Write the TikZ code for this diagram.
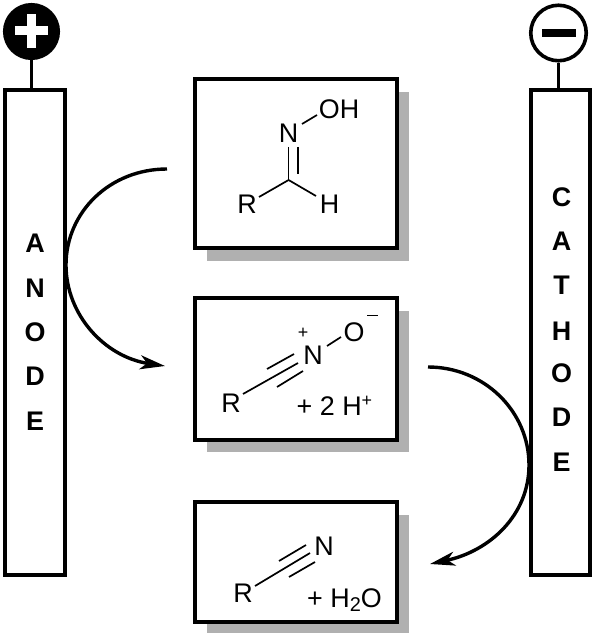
\documentclass[tikz,border=0pt]{standalone}
\usepackage{fontspec}
\setmainfont{Liberation Sans}
\usetikzlibrary{arrows.meta}
\tikzset{
  panel/.style={draw=black,line width=3.6bp,fill=white,inner sep=0pt},
  shadowbox/.style={fill=black!31,draw=none},
  electrode/.style={draw=black,line width=3.6bp,fill=white},
  chem/.style={inner sep=0pt,font=\fontsize{27}{27}\selectfont},
  elabel/.style={inner sep=0pt,font=\fontsize{27}{27}\selectfont\bfseries},
  bond/.style={line width=1.7bp},
  stem/.style={line width=3.6bp},
  flow/.style={line width=3.4bp,-{Stealth[length=25bp,width=14bp,inset=7bp]}}
}
\begin{document}
\begin{tikzpicture}[x=1bp,y=-1bp]
\useasboundingbox (0,0) rectangle (595,636);
% shadows and boxes
\fill[shadowbox] (207,92) rectangle (409,261);
\fill[shadowbox] (207,311) rectangle (409,452);
\fill[shadowbox] (207,515) rectangle (409,633);
\draw[panel] (195,79) rectangle (397,248);
\draw[panel] (195,298) rectangle (397,440);
\draw[panel] (195,502) rectangle (397,622);
% electrodes
\draw[electrode] (5,90) rectangle (65,575);
\draw[electrode] (531,90) rectangle (590,575);
\node[circle,fill=black,draw=black,line width=3.6bp,minimum size=53.5bp,inner sep=0pt] (plus) at (31.5,31.5) {};
\node[circle,fill=white,draw=black,line width=3.6bp,minimum size=55.5bp,inner sep=0pt] (minus) at (558.5,33) {};
\draw[stem] (plus.south) -- (31.5,90);
\draw[stem] (minus.south) -- (558.5,90);
\fill[white] (27,14) rectangle (36,48);
\fill[white] (15,26) rectangle (48,35);
\fill[black] (542,29) rectangle (576,37);
% electrode letters
\foreach \c/\y in {A/243,N/288,O/332,D/376,E/421}{\node[elabel] at (35,\y) {\c};}
\foreach \c/\y in {C/197,A/241,T/285,H/331,O/373,D/417,E/462}{\node[elabel] at (561.5,\y) {\c};}
% molecule 1
\node[chem] (oh) at (339,109.5) {OH};
\node[chem] (n1) at (288.5,133) {N};
\node[chem] (r1) at (247,204.5) {R};
\node[chem] (h1) at (329.5,204.5) {H};
\coordinate (c1) at (288.6,180);
\draw[bond] (288.6,147) -- (c1);
\draw[bond] (298,147) -- (298,174);
\draw[bond] (c1) -- (259,197);
\draw[bond] (c1) -- (316,196);
\draw[bond] (302,124) -- (317,115);
% molecule 2
\node[chem] (r2) at (231,403) {R};
\node[chem] (n2) at (313,355) {N};
\node[chem] (o2) at (354,332) {O};
\node[inner sep=0pt,font=\fontsize{18}{18}\selectfont] (np) at (303,333) {+};
\draw[line width=1.7bp] (367,315.5) -- (378,315.5);
\node[chem,anchor=base west] (hp) at (296.5,415) {+ 2 H\raisebox{9pt}{\fontsize{18}{18}\selectfont +}};
\draw[bond] (243,394) -- (298,363);
\draw[bond] (267,369) -- (294,354);
\draw[bond] (277,387) -- (303,371);
\draw[bond] (327,346) -- (341,337);
% molecule 3
\node[chem] (r3) at (243,593) {R};
\node[chem] (n3) at (324,546) {N};
\node[chem,anchor=base west] (w3) at (307,607) {+ H\raisebox{-5pt}{\fontsize{20}{20}\selectfont 2}O};
\draw[bond] (255,586) -- (310,553);
\draw[bond] (279,561) -- (306,545);
\draw[bond] (289,577) -- (315,562);
% arrows
\coordinate (a1) at (167,169);
\coordinate (a2) at (165,366);
\coordinate (b1) at (428,367);
\coordinate (b2) at (430,564);
\draw[flow] (a1) .. controls (110,169) and (66,212) .. (66,265) .. controls (66,315) and (105,357) .. (a2);
\draw[flow] (b1) .. controls (484,367) and (529,411) .. (529,465) .. controls (529,515) and (490,551) .. (b2);
\end{tikzpicture}
\end{document}
